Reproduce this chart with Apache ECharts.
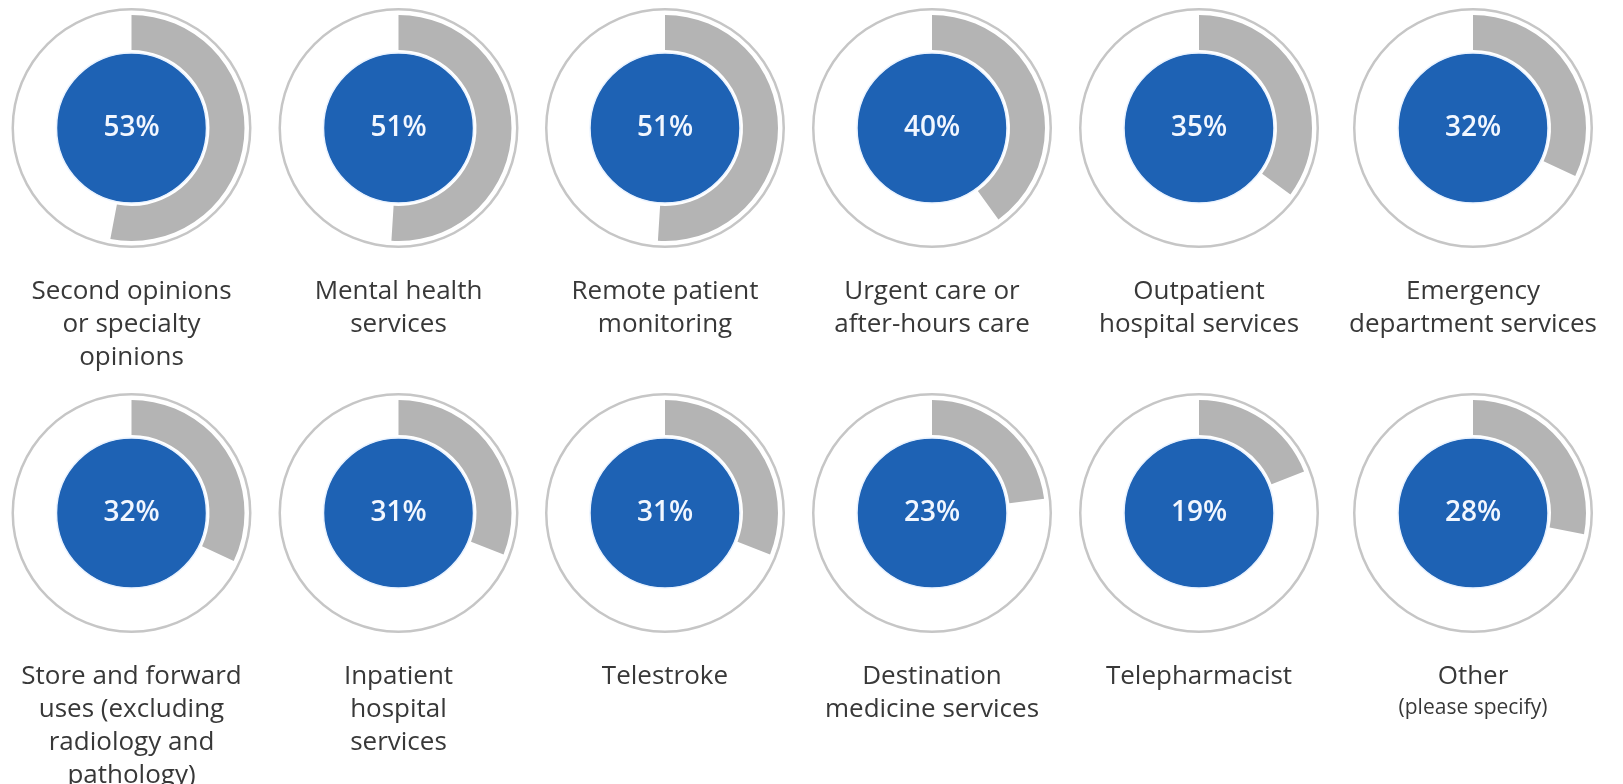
<!DOCTYPE html>
<html>
<head>
<meta charset="utf-8">
<title>Telehealth services</title>
<script src="https://cdn.jsdelivr.net/npm/echarts@6/dist/echarts.min.js"></script>
<style>
  html, body { margin: 0; padding: 0; background: #fff; }
  #chart { width: 1623px; height: 784px; }
</style>
</head>
<body>
<div id="chart"></div>
<script>
// data
const categories = [
  'Second opinions\nor specialty\nopinions',
  'Mental health\nservices',
  'Remote patient\nmonitoring',
  'Urgent care or\nafter-hours care',
  'Outpatient\nhospital services',
  'Emergency\ndepartment services',
  'Store and forward\nuses (excluding\nradiology and\npathology)',
  'Inpatient\nhospital\nservices',
  'Telestroke',
  'Destination\nmedicine services',
  'Telepharmacist',
  'Other'
]
const subLabels = ['', '', '', '', '', '', '', '', '', '', '', '(please specify)']
const percents = [53, 51, 51, 40, 35, 32, 32, 31, 31, 23, 19, 28]

const blue = '#1e62b4'
const grey = '#b4b4b4'
const ring = '#c6c6c6'

// layout of the 6 x 2 grid
const colX = [131.5, 398.5, 665, 932, 1199, 1473]
const rowY = [128, 513]
const labelGap = 147

const chart = echarts.init(document.getElementById('chart'))

const series = []
const titles = []

percents.forEach((v, i) => {
  const cx = colX[i % colX.length]
  const cy = rowY[Math.floor(i / colX.length)]
  const center = [cx, cy]

  // thin outer ring
  series.push({
    type: 'pie',
    center: center,
    radius: [117.5, 120],
    silent: true,
    animation: false,
    label: { show: false },
    labelLine: { show: false },
    itemStyle: { color: ring, borderWidth: 0 },
    data: [{ value: 1, name: categories[i] }]
  })

  // grey share arc, starting at 12 o'clock
  series.push({
    type: 'pie',
    center: center,
    radius: [78, 113],
    startAngle: 90,
    clockwise: true,
    silent: true,
    animation: false,
    label: { show: false },
    labelLine: { show: false },
    itemStyle: { borderWidth: 0 },
    data: [
      { value: v, name: categories[i], itemStyle: { color: grey } },
      { value: 100 - v, name: 'rest', itemStyle: { color: 'rgba(0,0,0,0)' } }
    ]
  })

  // blue disc with the percentage
  series.push({
    type: 'pie',
    center: center,
    radius: [0, 75],
    silent: true,
    animation: false,
    labelLine: { show: false },
    itemStyle: { color: blue, borderColor: '#eaf3ff', borderWidth: 1.5 },
    label: {
      show: true,
      position: 'center',
      formatter: '{c}%',
      color: '#f2f7ff',
      fontFamily: 'Open Sans',
      fontWeight: 600,
      fontSize: 28
    },
    data: [{ value: v, name: categories[i] }]
  })

  titles.push({
    text: categories[i],
    subtext: subLabels[i],
    left: cx,
    top: cy + labelGap,
    padding: 0,
    itemGap: 0,
    textAlign: 'center',
    textStyle: {
      fontFamily: 'Open Sans',
      fontWeight: 'normal',
      fontSize: 26,
      lineHeight: 33,
      color: '#383838'
    },
    subtextStyle: {
      fontFamily: 'Open Sans',
      fontSize: 21,
      lineHeight: 30,
      color: '#383838'
    }
  })
})

chart.setOption({
  animation: false,
  title: titles,
  series: series
})
</script>
</body>
</html>
